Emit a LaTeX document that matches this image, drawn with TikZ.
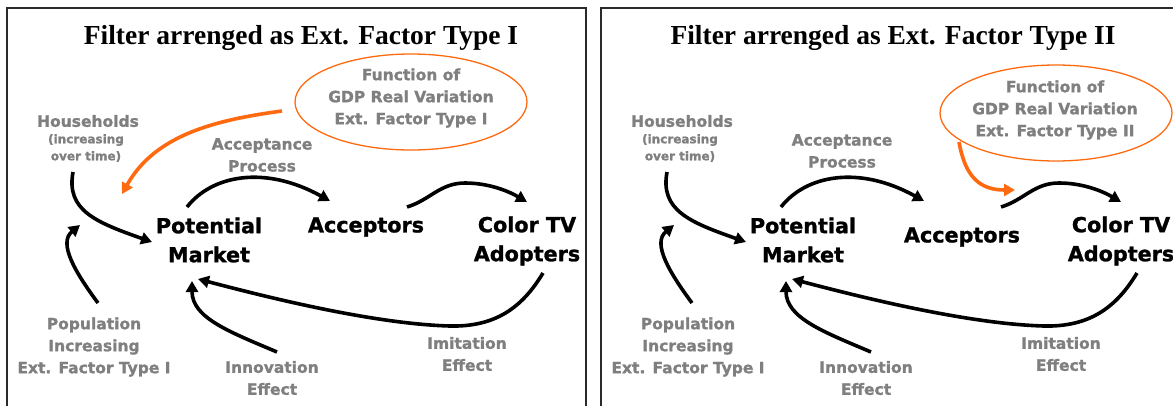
\documentclass[tikz,border=0pt]{standalone}
\usepackage{fontspec}
\setmainfont{Liberation Serif}
\newfontfamily\vfont{DejaVu Sans}[BoldFeatures={FakeBold=1.2}]
\usetikzlibrary{arrows.meta,shapes.geometric}
\definecolor{labgray}{HTML}{7F7F7F}
\definecolor{orng}{HTML}{FF6A10}
\definecolor{framec}{HTML}{2A2A2A}
\tikzset{
 ttl/.style={font=\bfseries\fontsize{27.5}{30}\selectfont, inner sep=0pt},
 lab/.style={font=\vfont\bfseries\fontsize{15.5}{22}\selectfont, text=labgray, align=center, inner sep=0pt},
 sml/.style={font=\vfont\bfseries\fontsize{12}{17}\selectfont, text=labgray, align=center, inner sep=0pt},
 big/.style={font=\vfont\bfseries\fontsize{20.7}{29}\selectfont, align=center, inner sep=0pt},
 arr/.style={draw=black, line width=3.6pt, -{Triangle[length=11pt,width=12pt]}},
 oarr/.style={arr, draw=orng, color=orng},
 ell/.style={ellipse, draw=orng, line width=1.3pt, minimum width=232pt, minimum height=96pt, inner sep=0pt},
 panelframe/.style={draw=framec, line width=1.5pt},
}
\newcommand{\commonparts}{%
  \node[lab] (hh) at (88,121) {Households};
  \node[sml] (hh2) at (86,148) {(increasing\\over time)};
  \node[big] (pm) at (209,240) {Potential\\Market};
  \node[big] (ctv) at (527,241) {Color TV\\Adopters};
  \node[lab] (pop) at (94,347) {Population\\Increasing\\Ext. Factor Type I};
  \node[lab] (inn) at (272,378) {Innovation\\Effect};
  \node[lab] (imi) at (467,354) {Imitation\\Effect};
  \coordinate (hhS) at (73,172); \coordinate (hhE) at (152,242);
  \draw[arr] (hhS) .. controls (66,210) and (95,222) .. (hhE);
  \coordinate (popS) at (98,303); \coordinate (popE) at (80,225);
  \draw[arr] (popS) .. controls (75,272) and (58,243) .. (popE);
  \coordinate (accS) at (187,207); \coordinate (accE) at (330,201);
  \draw[arr] (accS) .. controls (212,175) and (265,165) .. (accE);
  \coordinate (ctvS) at (407,207); \coordinate (ctvM) at (465,183); \coordinate (ctvE) at (527,202);
  \draw[arr] (ctvS) .. controls (430,200) and (440,183) .. (ctvM) .. controls (490,183) and (510,192) .. (ctvE);
  \coordinate (imS) at (543,273); \coordinate (imM) at (450,326); \coordinate (imE) at (198,279);
  \draw[arr] (imS) .. controls (522,308) and (495,327) .. (imM) .. controls (375,324) and (270,298) .. (imE);
  \coordinate (inS) at (277,352); \coordinate (inE) at (192,281);
  \draw[arr] (inS) .. controls (230,332) and (192,318) .. (inE);
}
\begin{document}
\begin{tikzpicture}[x=1pt,y=-1pt]
\useasboundingbox (0,0) rectangle (1173,405);
\clip (0,0) rectangle (1173,405);
\fill[white] (0,0) rectangle (1173,405);
% Panel 1
\begin{scope}[name prefix=a-]
  \draw[panelframe] (7,8) rectangle (586,420);
  \node[ttl] (title) at (301,38) {Filter arrenged as Ext. Factor Type I};
  \node[ell] (ell) at (411,102) {};
  \node[lab] (fn) at (411,98) {Function of\\GDP Real Variation\\Ext. Factor Type I};
  \node[lab] (acc) at (262,155) {Acceptance\\Process};
  \node[big] (ac) at (366,227) {Acceptors};
  \commonparts
  \coordinate (oS) at (282,111); \coordinate (oE) at (122,194);
  \draw[oarr] (oS) .. controls (215,120) and (155,135) .. (oE);
\end{scope}
% Panel 2
\begin{scope}[name prefix=b-, xshift=594pt]
  \draw[panelframe] (7,8) rectangle (590,420);
  \node[ttl] (title) at (299,38) {Filter arrenged as Ext. Factor Type II};
  \node[ell] (ell) at (462,113) {};
  \node[lab] (fn) at (461,110) {Function of\\GDP Real Variation\\Ext. Factor Type II};
  \node[lab] (acc) at (248,151) {Acceptance\\Process};
  \node[big] (ac) at (368,237) {Acceptors};
  \commonparts
  \coordinate (oS) at (365,142); \coordinate (oE) at (421,190);
  \draw[oarr] (oS) .. controls (371,176) and (385,190) .. (oE);
\end{scope}
\end{tikzpicture}
\end{document}
